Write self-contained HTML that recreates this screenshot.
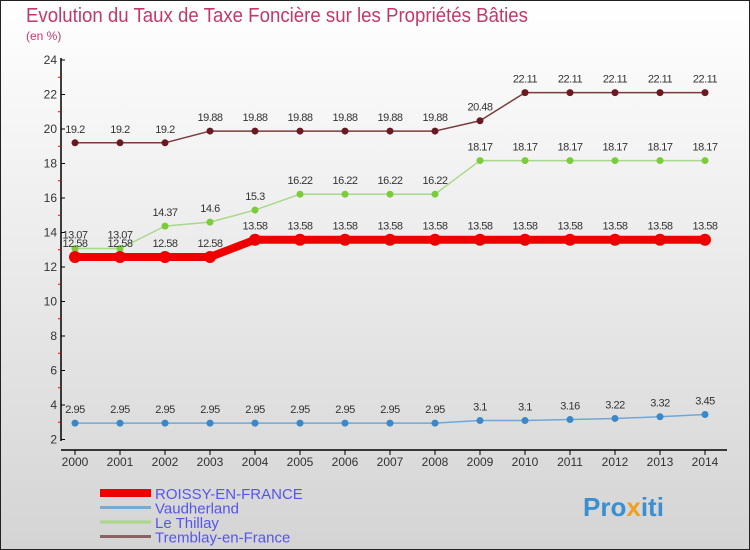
<!DOCTYPE html>
<html><head><meta charset="utf-8"><style>
body{margin:0}
#c{width:750px;height:550px;position:relative;overflow:hidden;font-family:"Liberation Sans",sans-serif}
</style></head><body>
<div id="c">
<svg id="s" width="750" height="550" xmlns="http://www.w3.org/2000/svg">
<defs><linearGradient id="bg" x1="0" y1="0" x2="0" y2="1"><stop offset="0" stop-color="#ffffff"/><stop offset="1" stop-color="#d4d4d4"/></linearGradient></defs>
<rect x="0.5" y="0.5" width="749" height="549" fill="url(#bg)" stroke="#222"/>
<text x="26" y="22" font-size="20" fill="#c0396a" textLength="502" lengthAdjust="spacingAndGlyphs">Evolution du Taux de Taxe Foncière sur les Propriétés Bâties</text>
<text x="26" y="40" font-size="12" fill="#c0396a">(en %)</text>
<g id="axes"></g><g id="series"></g><g id="legend"></g>
<text x="583" y="516" font-size="26" font-weight="bold" fill="#3a8fd0">Pro<tspan fill="#f0a020">x</tspan>iti</text>
</svg></div>
<script>
const years=[2000,2001,2002,2003,2004,2005,2006,2007,2008,2009,2010,2011,2012,2013,2014];
const yTicks=[2,4,6,8,10,12,14,16,18,20,22,24];
const roissy=[12.58,12.58,12.58,12.58,13.58,13.58,13.58,13.58,13.58,13.58,13.58,13.58,13.58,13.58,13.58];
const vaudherland=[2.95,2.95,2.95,2.95,2.95,2.95,2.95,2.95,2.95,3.1,3.1,3.16,3.22,3.32,3.45];
const thillay=[13.07,13.07,14.37,14.6,15.3,16.22,16.22,16.22,16.22,18.17,18.17,18.17,18.17,18.17,18.17];
const tremblay=[19.2,19.2,19.2,19.88,19.88,19.88,19.88,19.88,19.88,20.48,22.11,22.11,22.11,22.11,22.11];
const NS="http://www.w3.org/2000/svg";
const X=i=>75+i*45;
const Y=v=>439.5-(v-2)*17.25;
function mk(t,a,p){const e=document.createElementNS(NS,t);for(const k in a)e.setAttribute(k,a[k]);p.appendChild(e);return e;}
const ax=document.getElementById('axes');
let l=mk('line',{x1:61,y1:58,x2:61,y2:441,stroke:'#000','stroke-width':1.5},ax);


l=mk('line',{x1:61,y1:450,x2:727,y2:450,stroke:'#000','stroke-width':1.5},ax);


yTicks.forEach(v=>{
 mk('line',{x1:61,y1:Y(v),x2:65,y2:Y(v),stroke:'#000'},ax);
 if(v<24)mk('line',{x1:58,y1:Y(v+1),x2:61,y2:Y(v+1),stroke:'#e00'},ax);
 const t=mk('text',{x:57,y:Y(v)+4,'font-size':12,'text-anchor':'end',fill:'#333'},ax);t.textContent=v;
 
 
});
years.forEach((y,i)=>{
 mk('line',{x1:X(i),y1:450,x2:X(i),y2:455,stroke:'#000'},ax);
 const t=mk('text',{x:X(i),y:466,'font-size':12,'text-anchor':'middle',fill:'#333'},ax);t.textContent=y;
 
 
});
const sg=document.getElementById('series');
function series(name,data,color,w,r,dot){
 const g=mk('g',{},sg);
 
 
 mk('polyline',{points:data.map((v,i)=>X(i)+','+Y(v)).join(' '),fill:'none',stroke:color,'stroke-width':w,'stroke-linejoin':'round'},g);
 data.forEach((v,i)=>{
  const c=mk('circle',{cx:X(i),cy:Y(v),r:r,fill:dot},g);
  
  
  const t=mk('text',{x:X(i),y:Y(v)-10,'font-size':11,'text-anchor':'middle',fill:'#333','letter-spacing':'-0.5'},g);t.textContent=v;
  
  
 });
}
series('tremblay',tremblay,'#7a3a3a',1.5,3.5,'#6b1a22');
series('thillay',thillay,'#a8d88a',1.5,3.5,'#7acc3a');
series('roissy',roissy,'#ee0000',8,6,'#ee0000');
series('vaudherland',vaudherland,'#6fa8d8',1.5,3.5,'#3a88c8');
const lg=document.getElementById('legend');
[['ROISSY-EN-FRANCE','#ee0000',8],['Vaudherland','#7aaad0',3],['Le Thillay','#a8d88a',3],['Tremblay-en-France','#8a6262',3]].forEach((e,i)=>{
 const g=mk('g',{},lg);
 
 
 const y=493+i*14.5;
 mk('line',{x1:100,y1:y,x2:151,y2:y,stroke:e[1],'stroke-width':e[2]},g);
 const t=mk('text',{x:155,y:y+6,'font-size':15,fill:'#5555ee'},g);t.textContent=e[0];
});
</script>
</body></html>
